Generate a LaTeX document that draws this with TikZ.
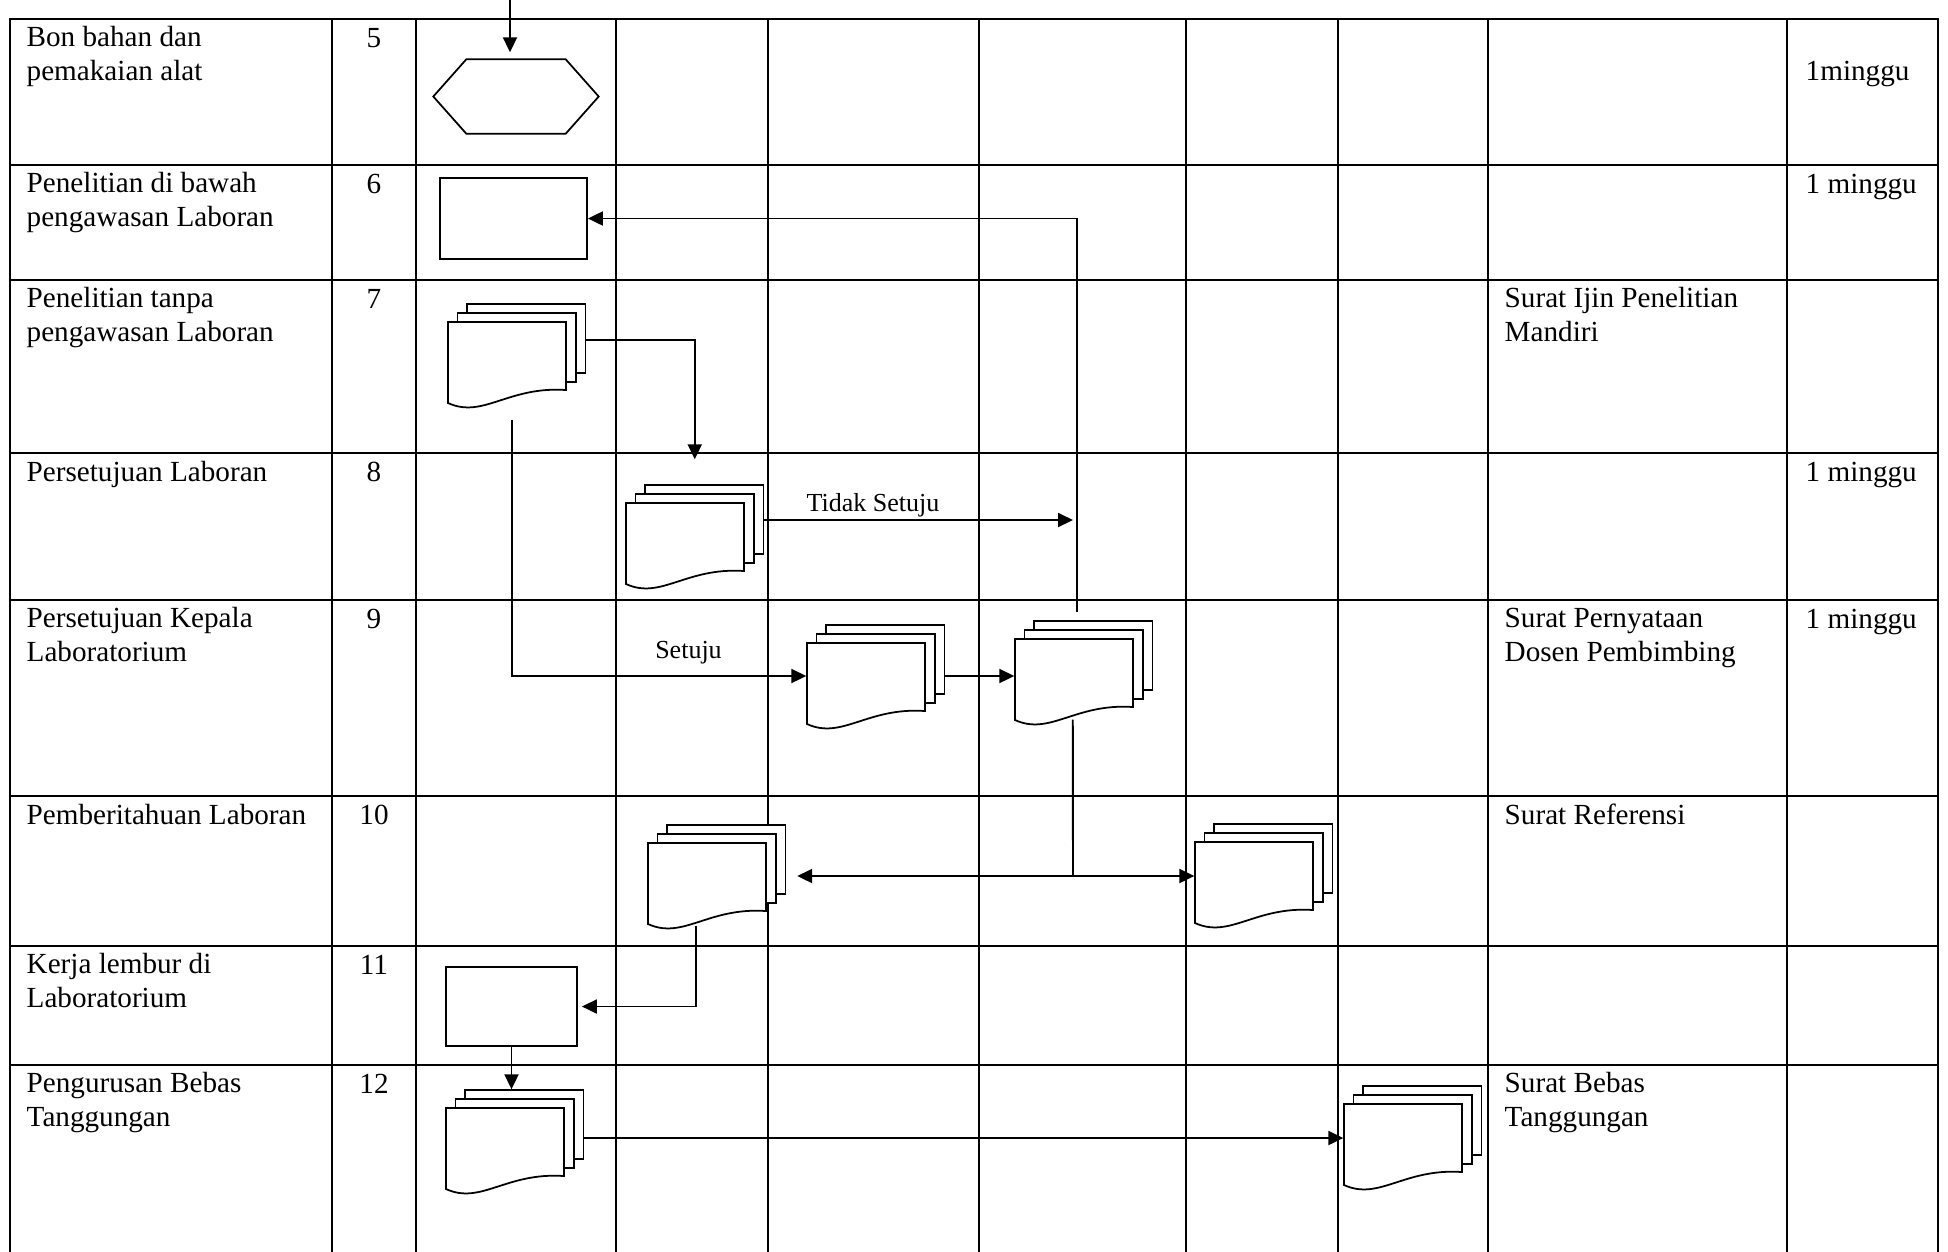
\documentclass[tikz,border=0pt]{standalone}
\usepackage{fontspec}
\setmainfont{Liberation Serif}
\usetikzlibrary{calc, positioning, arrows.meta}

\tikzset{
    garis/.style={line width=0.65pt, line cap=rect},
    alur/.style={line width=0.55pt},
    halaman/.style={line width=0.5pt, fill=white},
    teks/.style={anchor=base west, inner sep=0pt, align=left,
        font=\fontsize{8.3}{9.4}\selectfont},
    nomor/.style={anchor=base, inner sep=0pt, font=\fontsize{8.3}{9.4}\selectfont},
    ket/.style={inner sep=0pt, font=\fontsize{7.4}{8.5}\selectfont},
    proses/.style={draw, line width=0.5pt, inner sep=0pt},
    pics/dokumen/.style={code={
        \node[inner sep=0pt, minimum width=13.75mm, minimum height=11.5mm] (-b) at (68.75,39.5) {};
        \draw[halaman] (19,-18) rectangle (137.5,51);
        \draw[halaman] (9.5,-9) rectangle (128,60);
        \draw[halaman] (0,0) -- (118,0) -- (118,68)
            .. controls (60,64) and (35,97) .. (0,81) -- cycle;
    }}
}

\begin{document}
\begin{tikzpicture}[>={Triangle[length=1.5mm, width=1.4mm]}, x=0.1mm, y=-0.1mm]
    \useasboundingbox (0,0) rectangle (1948,1251);

    % Tabel
    \foreach \y in {19,165,280,453,600,796,946,1065}
        \draw[garis] (10,\y) -- (1938,\y);
    \foreach \x in {10,332,416,616,768,979,1186,1338,1488,1787,1938}
        \draw[garis] (\x,19) -- (\x,1251);

    % Uraian kegiatan (base = baris terakhir)
    \node[teks] (k5) at (26,80) {Bon bahan dan\\pemakaian alat};
    \node[teks] (k6) at (26,226) {Penelitian di bawah\\pengawasan Laboran};
    \node[teks] (k7) at (26,341) {Penelitian tanpa\\pengawasan Laboran};
    \node[teks] (k8) at (26,481) {Persetujuan Laboran};
    \node[teks] (k9) at (26,661) {Persetujuan Kepala\\Laboratorium};
    \node[teks] (k10) at (26,824) {Pemberitahuan Laboran};
    \node[teks] (k11) at (26,1007) {Kerja lembur di\\Laboratorium};
    \node[teks] (k12) at (26,1126) {Pengurusan Bebas\\Tanggungan};
    \foreach \n/\y in {5/47,6/193,7/308,8/481,9/628,10/824,11/974,12/1093}
        \node[nomor] (n\n) at (374,\y) {\n};

    % Output dan waktu
    \node[teks] (s7) at (1504,341) {Surat Ijin Penelitian\\Mandiri};
    \node[teks] (s9) at (1504,661) {Surat Pernyataan\\Dosen Pembimbing};
    \node[teks] (s10) at (1504,824) {Surat Referensi};
    \node[teks] (s12) at (1504,1126) {Surat Bebas\\Tanggungan};
    \node[teks] (w5) at (1805,80) {1minggu};
    \node[teks] (w6) at (1805,193) {1 minggu};
    \node[teks] (w8) at (1805,481) {1 minggu};
    \node[teks] (w9) at (1805,628) {1 minggu};

    % Simbol bagan alir
    \coordinate (in5) at (510,0);
    \node[inner sep=0pt, minimum width=16.4mm, minimum height=7.3mm] (h5) at (516,96.5) {};
    \draw[line width=0.5pt] (h5.west) -- ([xshift=3.3mm]h5.north west)
        -- ([xshift=-3.3mm]h5.north east) -- (h5.east)
        -- ([xshift=-3.3mm]h5.south east) -- ([xshift=3.3mm]h5.south west) -- cycle;
    \node[proses, minimum width=14.7mm, minimum height=8.1mm] (r6) at (513.5,218.5) {};
    \pic (d7) at (448,322) {dokumen};
    \pic (d8) at (626,503) {dokumen};
    \pic (d9a) at (807,643) {dokumen};
    \pic (d9b) at (1015,639) {dokumen};
    \pic (d10a) at (648,843) {dokumen};
    \pic (d10b) at (1195,842) {dokumen};
    \node[proses, minimum width=13.1mm, minimum height=7.9mm] (r11) at (511.5,1006.5) {};
    \pic (d12a) at (446,1108) {dokumen};
    \pic (d12b) at (1344,1104) {dokumen};

    % Alur
    \draw[alur, ->, shorten >=0.7mm] (in5) -- (in5 |- h5.north);
    \draw[alur, ->] ([xshift=-0.7mm, yshift=0.8mm]d9b-b.north) |- (r6.east);
    \draw[alur, ->, shorten >=2.5mm] ([yshift=2.15mm]d7-b.east) -| (d8-b.north);
    \draw[alur, ->] ([xshift=-0.5mm]d7-b.south) |- node[ket, pos=0.8, above=1.1mm] (lsetuju) {Setuju}
        ([yshift=0.65mm]d9a-b.west);
    \coordinate (tidak) at (1073,520);
    \draw[alur, ->] ([yshift=2.25mm]d8-b.east) -- node[ket, pos=0.352, above=0.25mm] (ltidak) {Tidak Setuju} (tidak);
    \draw[alur, ->] ([yshift=0.65mm]d9a-b.east) -- ([yshift=0.65mm]d9a-b.east -| d9b-b.west);
    \coordinate (bagi) at (1073,876);
    \draw[alur] ([xshift=-1.1mm, yshift=1.7mm]d9b-b.south) -- (bagi);
    \draw[alur, ->, shorten >=1.1mm] (bagi) -- (bagi -| d10a-b.east);
    \draw[alur, ->] (bagi) -- (bagi -| d10b-b.west);
    \draw[alur, ->, shorten >=0.4mm] ([xshift=-2.1mm, yshift=1.5mm]d10a-b.south) |- (r11.east);
    \draw[alur, ->] (r11.south) -- (r11.south |- d12a-b.north);
    \draw[alur, ->] ([yshift=0.95mm]d12a-b.east) -- ([yshift=0.95mm]d12a-b.east -| d12b-b.west);
\end{tikzpicture}
\end{document}
